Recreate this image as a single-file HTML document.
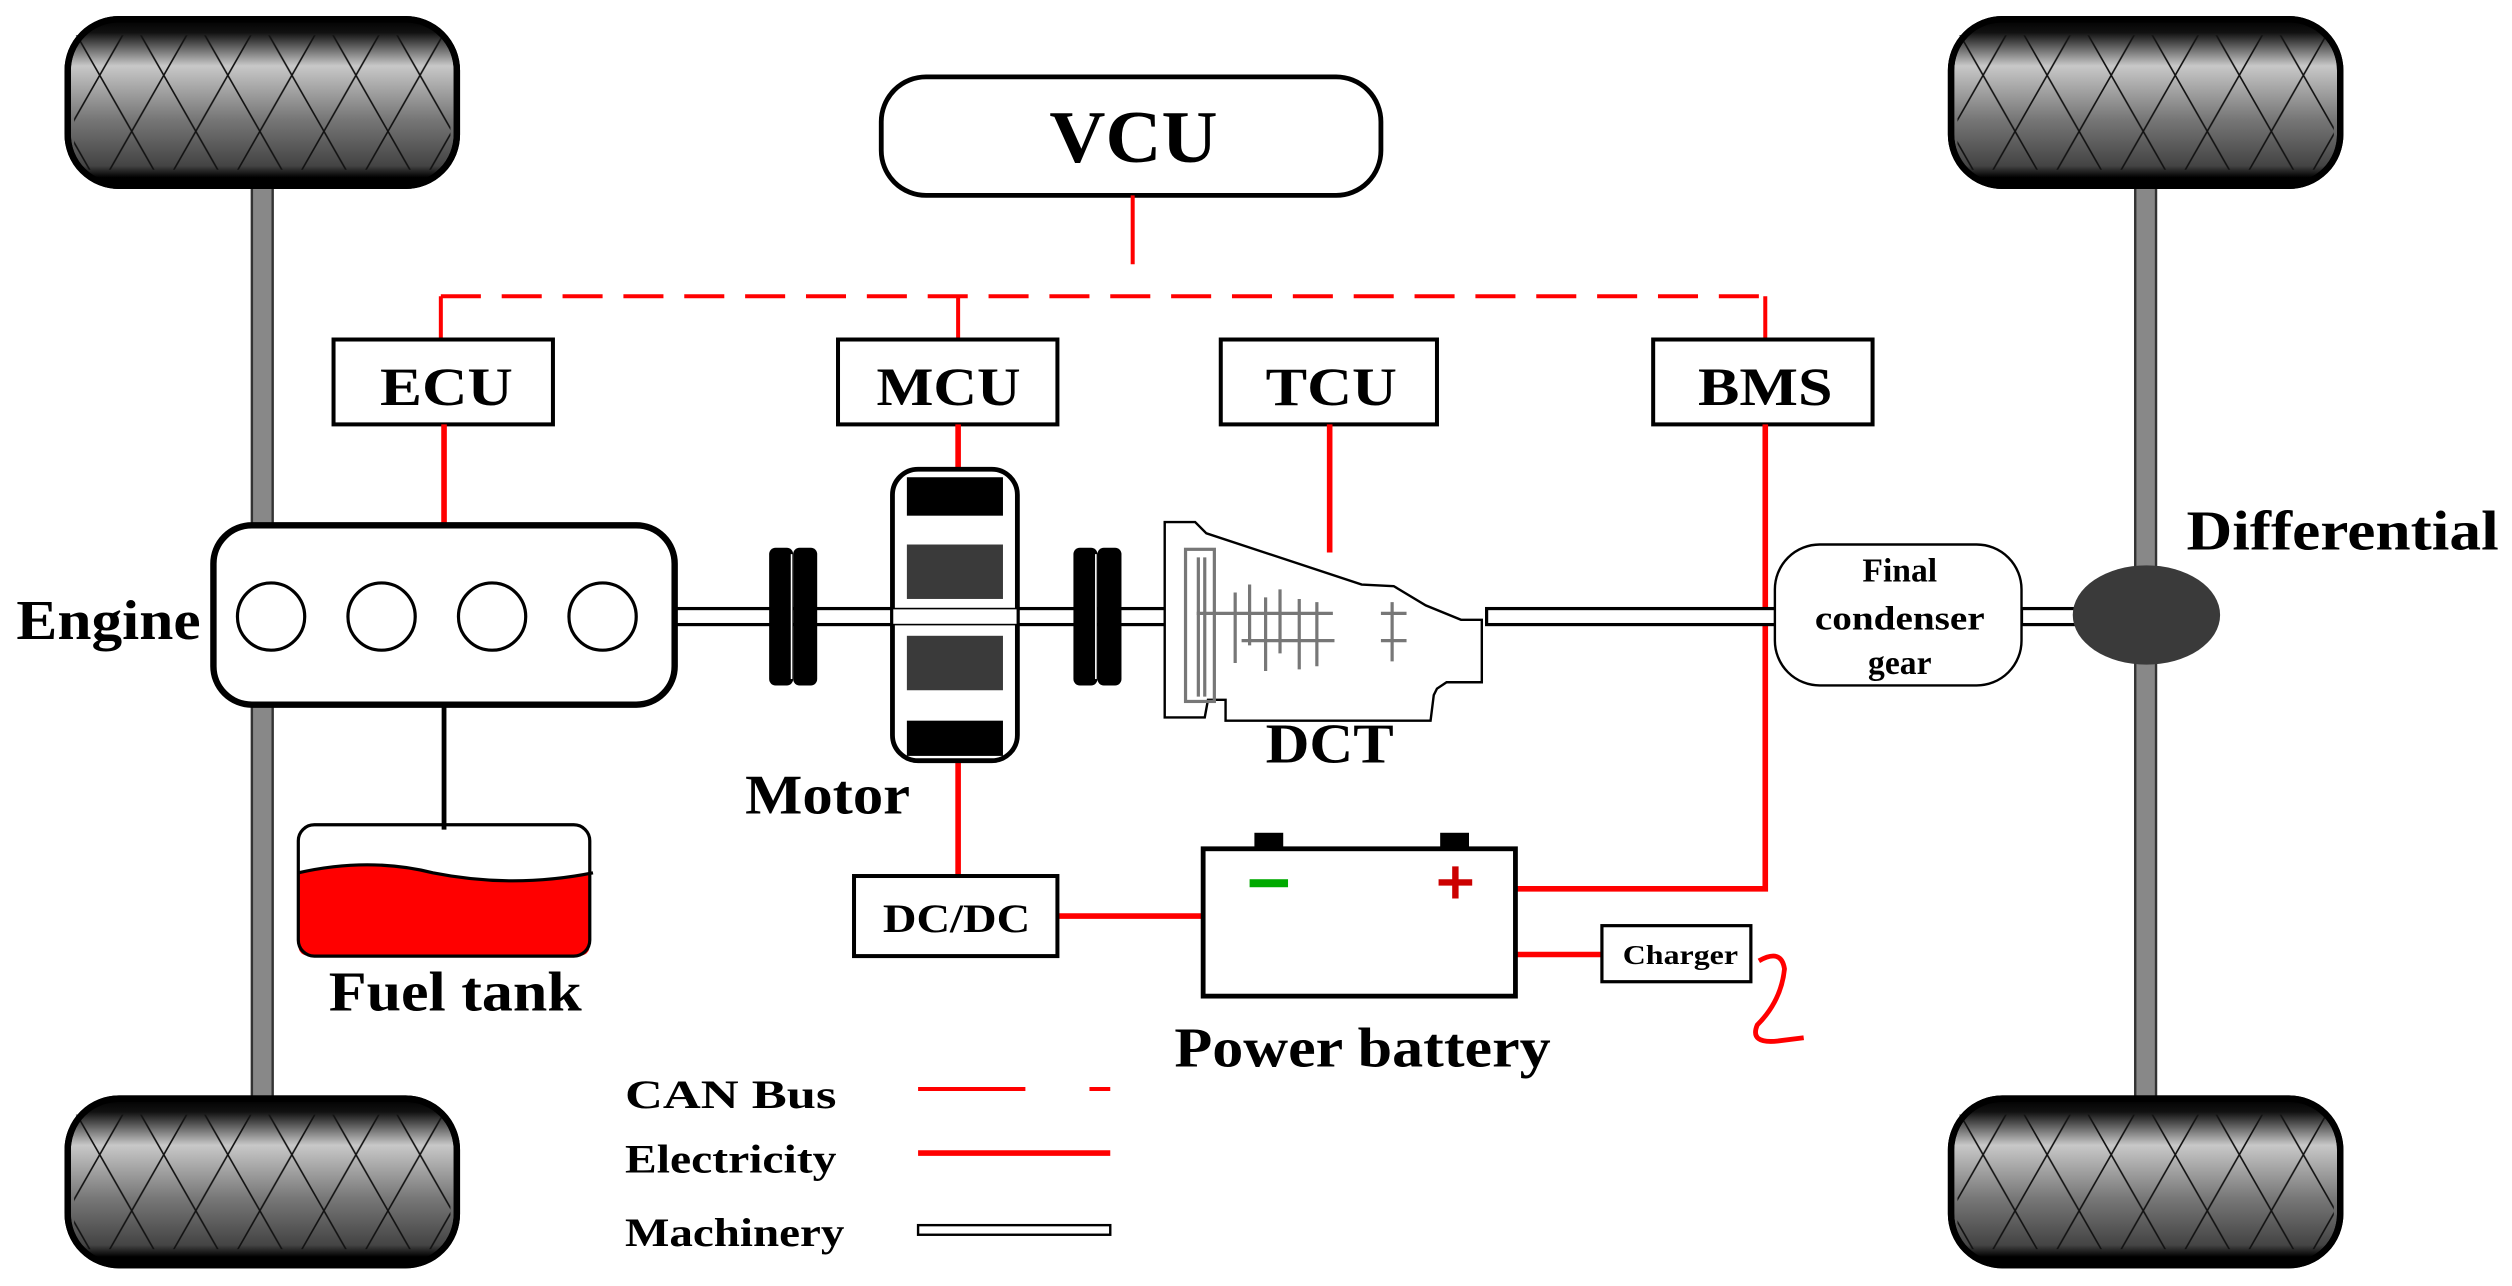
<!DOCTYPE html>
<html><head><meta charset="utf-8"><style>html,body{margin:0;padding:0;background:#fff}svg{display:block}</style></head>
<body>
<svg width="2512" height="1286" viewBox="0 0 1568 803" xmlns="http://www.w3.org/2000/svg" font-family="Liberation Serif, serif" font-weight="bold">
<defs>
<linearGradient id="tg" x1="0" y1="0" x2="0" y2="1">
<stop offset="0" stop-color="#000"/><stop offset="0.08" stop-color="#111"/><stop offset="0.28" stop-color="#c8c8c8"/><stop offset="0.6" stop-color="#777"/><stop offset="0.88" stop-color="#444"/><stop offset="0.95" stop-color="#000"/><stop offset="1" stop-color="#000"/>
</linearGradient>
<pattern id="tp" width="40" height="70" patternUnits="userSpaceOnUse">
<path d="M0 0 L40 70 M40 0 L0 70 M-20 35 L0 70 M20 -35 L60 35 M20 105 L60 35" stroke="#111" stroke-width="1" fill="none"/>
</pattern>
<g id="tire">
<rect x="0" y="0" width="243" height="104" rx="32" fill="url(#tg)" stroke="#000" stroke-width="4"/>
<rect x="4" y="10" width="235" height="84" fill="url(#tp)"/>
<rect x="0" y="0" width="243" height="104" rx="32" fill="none" stroke="#000" stroke-width="4"/>
</g>
</defs>
<rect x="157" y="112" width="13" height="578" fill="#888" stroke="#333" stroke-width="1.5"/>
<rect x="1333" y="112" width="13" height="578" fill="#888" stroke="#333" stroke-width="1.5"/>
<use href="#tire" x="42" y="12"/>
<use href="#tire" x="42" y="686"/>
<use href="#tire" x="1218" y="12"/>
<use href="#tire" x="1218" y="686"/>

<rect x="550" y="48" width="312" height="74" rx="28" fill="#fff" stroke="#000" stroke-width="3"/>
<text x="655" y="101" font-size="46" textLength="105" lengthAdjust="spacingAndGlyphs">VCU</text>
<g stroke="#f00" stroke-width="2.5" fill="none">
<line x1="707" y1="122" x2="707" y2="165"/>
<line x1="275" y1="185" x2="1102" y2="185" stroke-dasharray="25 13"/>
<line x1="275" y1="185" x2="275" y2="212"/>
<line x1="598" y1="185" x2="598" y2="212"/>
<line x1="1102" y1="185" x2="1102" y2="212"/>
</g>
<g fill="#fff" stroke="#000" stroke-width="2.5">
<rect x="208" y="212" width="137" height="53"/>
<rect x="523" y="212" width="137" height="53"/>
<rect x="762" y="212" width="135" height="53"/>
<rect x="1032" y="212" width="137" height="53"/>
</g>
<g font-size="34" lengthAdjust="spacingAndGlyphs">
<text x="237" y="253" textLength="83" lengthAdjust="spacingAndGlyphs">ECU</text>
<text x="547" y="253" textLength="90" lengthAdjust="spacingAndGlyphs">MCU</text>
<text x="790" y="253" textLength="82" lengthAdjust="spacingAndGlyphs">TCU</text>
<text x="1060" y="253" textLength="84" lengthAdjust="spacingAndGlyphs">BMS</text>
</g>
<g stroke="#f00" stroke-width="3.5" fill="none">
<line x1="277" y1="265" x2="277" y2="328"/>
<line x1="598" y1="265" x2="598" y2="296"/>
<line x1="830" y1="265" x2="830" y2="345"/>
<polyline points="1102,265 1102,555 946,555"/>
<line x1="598" y1="475" x2="598" y2="547"/>
<line x1="660" y1="572" x2="751" y2="572"/>
<line x1="946" y1="596" x2="1000" y2="596"/>
<path d="M1098 600 Q1112 592 1114 605 Q1112 625 1097 640 Q1092 652 1110 650 L1126 648" stroke-width="3"/>
</g>
<rect x="421" y="380" width="310" height="10" fill="#fff" stroke="#000" stroke-width="2"/>
<rect x="928" y="380" width="182" height="10" fill="#fff" stroke="#000" stroke-width="2"/>
<rect x="1262" y="380" width="40" height="10" fill="#fff" stroke="#000" stroke-width="2"/>
<rect x="133" y="328" width="288" height="112" rx="24" fill="#fff" stroke="#000" stroke-width="4"/>
<g fill="#fff" stroke="#000" stroke-width="2">
<circle cx="169" cy="385" r="21"/><circle cx="238" cy="385" r="21"/><circle cx="307" cy="385" r="21"/><circle cx="376" cy="385" r="21"/>
</g>
<text x="10" y="399" font-size="35" textLength="115" lengthAdjust="spacingAndGlyphs">Engine</text>
<line x1="277" y1="440" x2="277" y2="518" stroke="#000" stroke-width="3"/>
<path d="M186 545 Q230 535 270 545 Q320 555 368 545 L368 590 Q368 597 360 597 L194 597 Q186 597 186 590 Z" fill="#f00"/>
<rect x="186" y="515" width="182" height="82" rx="10" fill="none" stroke="#000" stroke-width="2"/>
<path d="M186 545 Q230 535 270 545 Q320 555 370 545" stroke="#000" stroke-width="2" fill="none"/>
<text x="205" y="631" font-size="35" textLength="158" lengthAdjust="spacingAndGlyphs">Fuel tank</text>
<g fill="#000">
<rect x="480" y="342" width="15" height="86" rx="4"/><rect x="495" y="342" width="15" height="86" rx="4"/>
<rect x="670" y="342" width="15" height="86" rx="4"/><rect x="685" y="342" width="15" height="86" rx="4"/>
</g>
<g stroke="#fff" stroke-width="1"><line x1="494" y1="346" x2="494" y2="424"/><line x1="684" y1="346" x2="684" y2="424"/></g>
<rect x="557" y="293" width="78" height="182" rx="16" fill="#fff" stroke="#000" stroke-width="3"/>
<rect x="566" y="298" width="60" height="24" fill="#000"/>
<rect x="566" y="340" width="60" height="34" fill="#3a3a3a"/>
<rect x="566" y="397" width="60" height="34" fill="#3a3a3a"/>
<rect x="566" y="450" width="60" height="22" fill="#000"/>
<rect x="557" y="380" width="78" height="10" fill="#fff" stroke="#000" stroke-width="1"/>
<text x="465" y="508" font-size="35" textLength="103" lengthAdjust="spacingAndGlyphs">Motor</text>
<path d="M727 326 L746 326 L753 333 L850 365 L870 366 L890 378 L912 387 L925 387 L925 426 L903 426 L897 430 L895 434 L893 450 L765 450 L765 437 L754 437 L752 448 L727 448 Z" fill="#fff" stroke="#000" stroke-width="1.5"/>
<g stroke="#777" stroke-width="2" fill="none">
<rect x="740" y="343" width="18" height="95"/>
<line x1="748" y1="348" x2="748" y2="435"/><line x1="752" y1="348" x2="752" y2="435"/>
<line x1="747" y1="383" x2="832" y2="383"/>
<line x1="775" y1="400" x2="833" y2="400"/>
<line x1="862" y1="383" x2="878" y2="383"/>
<line x1="862" y1="400" x2="878" y2="400"/>
<path d="M771 370v44M780 365v38M790 373v46M799 368v40M811 374v44M822 376v40M869 376v37"/>
</g>
<text x="790" y="476" font-size="35" textLength="80" lengthAdjust="spacingAndGlyphs">DCT</text>
<rect x="1108" y="340" width="154" height="88" rx="28" fill="#fff" stroke="#000" stroke-width="1.5"/>
<g font-size="21" text-anchor="middle"><text x="1186" y="363">Final</text><text x="1186" y="393" textLength="106" lengthAdjust="spacingAndGlyphs">condenser</text><text x="1186" y="421">gear</text></g>
<ellipse cx="1340" cy="384" rx="46" ry="31" fill="#3a3a3a"/>
<text x="1365" y="343" font-size="35" textLength="195" lengthAdjust="spacingAndGlyphs">Differential</text>
<rect x="533" y="547" width="127" height="50" fill="#fff" stroke="#000" stroke-width="2.5"/>
<text x="551" y="582" font-size="25" textLength="92" lengthAdjust="spacingAndGlyphs">DC/DC</text>
<rect x="783" y="520" width="18" height="11" fill="#000"/>
<rect x="899" y="520" width="18" height="11" fill="#000"/>
<rect x="751" y="530" width="195" height="92" fill="#fff" stroke="#000" stroke-width="3"/>
<rect x="780" y="549" width="24" height="5" fill="#0a0"/>
<path d="M898 551 H919 M908.5 541 V561" stroke="#c00" stroke-width="4"/>
<text x="733" y="666" font-size="35" textLength="235" lengthAdjust="spacingAndGlyphs">Power battery</text>
<rect x="1000" y="578" width="93" height="35" fill="#fff" stroke="#000" stroke-width="2"/>
<text x="1013" y="602" font-size="17" textLength="72" lengthAdjust="spacingAndGlyphs">Charger</text>
<g font-size="25">
<text x="390" y="692" textLength="132" lengthAdjust="spacingAndGlyphs">CAN  Bus</text>
<text x="390" y="732" textLength="132" lengthAdjust="spacingAndGlyphs">Electricity</text>
<text x="390" y="778" textLength="137" lengthAdjust="spacingAndGlyphs">Machinery</text></g>
<line x1="573" y1="680" x2="693" y2="680" stroke="#f00" stroke-width="2.5" stroke-dasharray="67 40"/>
<line x1="573" y1="720" x2="693" y2="720" stroke="#f00" stroke-width="3.5"/>
<rect x="573" y="765" width="120" height="6" fill="#fff" stroke="#000" stroke-width="1.5"/>
</svg>
</body></html>
